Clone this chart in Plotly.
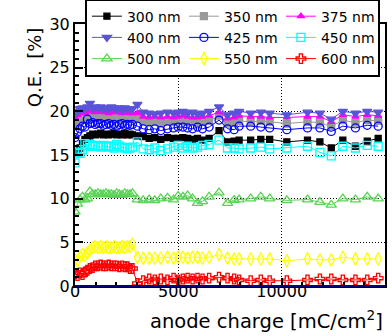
import plotly.graph_objects as go

# anode charge [mC/cm^2]
charge = [0, 120, 240, 360, 480, 600, 720, 850, 980, 1110, 1240, 1370, 1500, 1630, 1760,
          1890, 2020, 2150, 2280, 2410, 2540, 2660, 2780, 3020,
          3300, 3590, 3860, 4150, 4475, 4770, 4990, 5220, 5450, 5690, 5930, 6170, 6490,
          6970, 7380, 7700, 7940, 8500, 8990, 9420, 10250, 11250, 11850, 12400, 12960,
          13570, 14140, 14670]

qe_300 = [15.2, 15.4, 15.8, 16.3, 16.8, 17.0, 17.2, 17.4, 17.3, 17.4, 17.5, 17.3, 17.4, 17.3, 17.4,
          17.5, 17.3, 17.4, 17.3, 17.5, 17.3, 17.4, 17.3, 17.2,
          17.1, 16.9, 17.0, 16.8, 17.0, 16.9, 16.9, 17.0, 16.9, 16.8, 16.9, 16.7, 16.9,
          17.8, 16.5, 16.6, 16.7, 16.7, 16.8, 16.8, 16.5, 16.7, 16.5, 15.8, 16.7,
          16.0, 16.6, 16.9]
qe_350 = [18.4, 18.7, 18.9, 19.2, 19.1, 19.3, 19.4, 19.3, 19.2, 19.3, 19.3, 19.2, 19.3, 19.1, 19.2,
          19.3, 19.2, 19.3, 19.1, 19.2, 19.3, 19.2, 19.1, 19.2,
          18.9, 18.8, 18.9, 18.7, 18.9, 18.8, 18.9, 18.9, 18.8, 18.9, 18.7, 18.8, 18.9,
          19.5, 18.6, 18.7, 18.9, 18.8, 18.9, 18.8, 18.6, 18.8, 18.7, 18.25, 19.0,
          18.7, 19.0, 18.9]
qe_375 = [19.3, 19.6, 19.8, 19.9, 19.8, 20.1, 20.0, 20.0, 19.9, 20.0, 20.0, 19.9, 20.0, 19.8, 19.9,
          20.0, 19.9, 19.9, 19.8, 19.9, 19.9, 19.8, 19.8, 19.8,
          19.4, 19.3, 19.4, 19.3, 19.4, 19.3, 19.4, 19.5, 19.4, 19.3, 19.3, 19.4, 19.5,
          19.9, 19.2, 19.3, 19.5, 19.4, 19.4, 19.3, 19.3, 19.4, 19.4, 18.8, 19.6,
          19.4, 19.6, 19.5]
qe_400 = [19.6, 20.0, 20.3, 20.4, 20.3, 20.5, 20.9, 20.4, 20.5, 20.4, 20.5, 20.3, 20.4, 20.3, 20.5,
          20.4, 20.3, 20.4, 20.2, 20.4, 20.3, 20.3, 20.3, 20.8,
          19.9, 19.8, 19.7, 19.8, 19.9, 19.8, 19.9, 20.0, 19.8, 19.9, 19.7, 19.8, 20.0,
          20.5, 19.6, 19.8, 20.0, 19.8, 19.9, 19.8, 19.6, 19.9, 19.8, 19.1, 20.0,
          19.8, 20.0, 19.9]
qe_425 = [17.0, 17.6, 18.0, 18.3, 18.2, 19.1, 18.6, 18.7, 18.5, 18.6, 18.6, 18.4, 18.5, 18.6, 18.4,
          18.5, 18.3, 18.5, 18.6, 18.4, 18.5, 18.4, 18.5, 18.3,
          18.0, 17.9, 18.0, 17.8, 18.0, 18.1, 18.2, 18.2, 18.1, 18.0, 18.2, 18.0, 18.2,
          19.0, 18.0, 17.9, 18.3, 18.3, 18.2, 18.1, 17.9, 18.1, 18.1, 17.7, 18.3,
          18.1, 18.4, 18.3]
qe_450 = [14.1, 15.3, 15.2, 15.6, 16.3, 16.1, 16.2, 16.0, 16.1, 16.0, 15.9, 16.1, 16.0, 15.9, 16.0,
          15.8, 16.2, 16.0, 15.9, 15.8, 15.7, 15.8, 15.9, 16.5,
          15.7, 15.6, 15.8, 15.5, 15.7, 15.9, 16.1, 15.8, 16.0, 15.8, 15.9, 16.1, 16.2,
          16.7, 15.8, 15.8, 15.7, 15.8, 15.9, 15.7, 15.8, 16.0, 15.3, 14.9, 16.0,
          15.8, 16.1, 16.0]
qe_500 = [8.5, 9.4, 9.9, 10.2, 9.9, 10.0, 10.8, 10.5, 10.5, 10.6, 10.5, 10.5, 10.6, 10.5, 10.5,
          10.4, 10.6, 10.5, 10.4, 10.6, 10.5, 10.5, 10.6, 9.9,
          9.8, 9.9, 9.8, 10.0, 10.1, 9.9, 10.3, 10.2, 10.35, 10.0, 9.5, 9.7, 10.2,
          10.7, 9.5, 9.85, 9.9, 10.0, 10.2, 10.0, 9.8, 9.9, 9.6, 9.3, 10.0,
          9.9, 10.2, 10.0]
qe_550 = [3.0, 2.9, 3.4, 3.6, 3.5, 3.8, 4.1, 4.4, 4.5, 4.4, 4.5, 4.4, 4.5, 4.4, 4.4,
          4.5, 4.4, 4.4, 4.5, 4.4, 4.5, 4.5, 4.8, 3.3,
          3.2, 3.2, 3.2, 3.2, 3.3, 3.2, 3.3, 3.3, 3.2, 3.3, 3.3, 3.2, 3.3,
          3.6, 3.2, 3.1, 3.1, 3.1, 3.1, 3.1, 2.9, 3.1, 3.0, 3.0, 3.3,
          3.1, 3.1, 3.1]
qe_600 = [1.4, 1.2, 1.5, 1.3, 1.6, 1.8, 2.0, 2.1, 2.3, 2.3, 2.4, 2.3, 2.3, 2.4, 2.3,
          2.3, 2.3, 2.2, 2.3, 2.2, 2.2, 2.0, 2.0, 0.3,
          0.6, 0.8, 0.7, 0.8, 0.7, 0.9, 0.7, 0.8, 0.9, 0.8, 0.9, 0.8, 0.9,
          1.0, 0.9, 0.8, 0.7, 0.6, 0.7, 0.6, 0.6, 0.7, 0.8, 0.8, 0.7,
          0.7, 0.7, 0.9]

labels = ["300 nm", "350 nm", "375 nm", "400 nm", "425 nm", "450 nm", "500 nm", "550 nm", "600 nm"]
values = [qe_300, qe_350, qe_375, qe_400, qe_425, qe_450, qe_500, qe_550, qe_600]

styles = [
    dict(color="#000000", symbol="square", size=6),
    dict(color="#999999", symbol="square", size=7),
    dict(color="#ff00ff", symbol="triangle-up", size=6),
    dict(color="#5954d8", symbol="triangle-down", size=8),
    dict(color="#0000ff", symbol="circle-open", size=8),
    dict(color="#00ffff", symbol="square-open", size=8),
    dict(color="#59d454", symbol="triangle-up-open", size=9),
    dict(color="#ffff00", symbol="diamond-tall-open", size=9),
    dict(color="#ff0000", symbol="cross-open", size=8),
]

FONT = "DejaVu Sans"

fig = go.Figure()
for lab, vals, st in zip(labels, values, styles):
    fig.add_trace(go.Scatter(
        x=charge, y=vals, name=lab, mode="lines+markers",
        line=dict(color=st["color"], width=1),
        marker=dict(symbol=st["symbol"], size=st["size"], color=st["color"],
                    line=dict(color=st["color"], width=1.3)),
    ))

fig.update_layout(
    width=392, height=336,
    margin=dict(l=75, r=7, t=24, b=50, autoexpand=False),
    paper_bgcolor="white", plot_bgcolor="white",
    font=dict(family=FONT, size=16, color="black"),
    showlegend=True,
    legend=dict(
        orientation="h", x=0.032, xanchor="left", y=1.097, yanchor="top",
        bgcolor="white", bordercolor="black", borderwidth=2,
        font=dict(family=FONT, size=14, color="black"),
        entrywidth=52, entrywidthmode="pixels", itemwidth=30,
        tracegroupgap=0,
    ),
    xaxis=dict(
        range=[0, 15000], tickvals=[0, 5000, 10000], ticktext=["0", "5000", "10000"],
        showgrid=True, gridcolor="black", griddash="1px,2px", gridwidth=1,
        zeroline=False, showline=True, linecolor="black", linewidth=2, mirror=True,
        ticks="inside", ticklen=8, tickwidth=1.5, tickcolor="black",
        minor=dict(dtick=1000, ticks="inside", ticklen=4, tickwidth=1.5, tickcolor="black", showgrid=False),
        tickfont=dict(family=FONT, size=16),
        ticklabelstandoff=-10,
    ),
    yaxis=dict(
        range=[0, 30], tickvals=[0, 5, 10, 15, 20, 25, 30],
        showgrid=True, gridcolor="black", griddash="1px,2px", gridwidth=1,
        zeroline=False, showline=True, linecolor="black", linewidth=2, mirror=True,
        ticks="inside", ticklen=8, tickwidth=1.5, tickcolor="black",
        minor=dict(dtick=1, ticks="inside", ticklen=4, tickwidth=1.5, tickcolor="black", showgrid=False),
        tickfont=dict(family=FONT, size=16),
    ),
    shapes=[dict(type="line", xref="paper", yref="paper", x0=0, x1=1, y0=0, y1=0,
                 line=dict(color="#000080", width=2))],
    annotations=[
        dict(text="anode charge [mC/cm<sup>2</sup>]", xref="paper", yref="paper",
             x=0.236, y=-0.131, xanchor="left", yanchor="middle", showarrow=False,
             font=dict(family=FONT, size=19.5, color="black")),
        dict(text="Q.E.\u00a0 [%]", xref="paper", yref="paper", textangle=-90,
             x=-0.13, y=0.834, xanchor="center", yanchor="middle", showarrow=False,
             font=dict(family=FONT, size=18, color="black")),
    ],
)

fig.write_html("out.html", config={"displayModeBar": False},
               post_script="document.body.style.margin='0px';")
